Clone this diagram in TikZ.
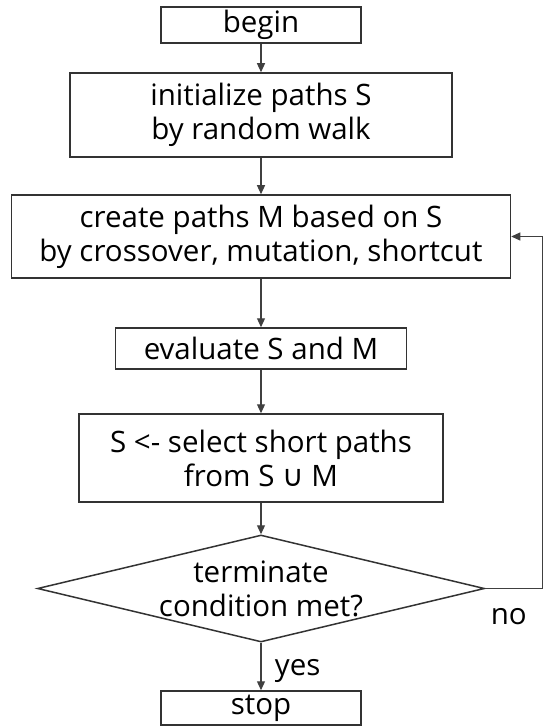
\documentclass[tikz,border=0pt]{standalone}
\usepackage{fontspec}
\setmainfont{Open Sans}
\newfontfamily\symfont{DejaVu Sans}
\usetikzlibrary{arrows.meta,positioning,shapes.geometric}

\begin{document}
\begin{tikzpicture}[
  x=1pt, y=-1pt,
  block/.style={draw=black!80, line width=1.5pt, inner sep=0pt,
    align=center, font=\fontsize{29.5}{34}\selectfont},
  txt/.style={font=\fontsize{29.5}{34}\selectfont, align=center},
  arr/.style={-{Triangle[length=9pt, width=8pt]}, line width=1.2pt, draw=black!75}
]
\useasboundingbox (0,0) rectangle (543,727);

% Start
\node[block, minimum width=200pt, minimum height=36pt] (begin) at (261,25) {begin};

% Initial paths
\node[block, minimum width=382pt, minimum height=84pt] (init) at (261,115) {initialize paths S\\by random walk};

% New paths
\node[block, minimum width=499pt, minimum height=83pt] (create) at (261,236.5) {create paths M based on S\\by crossover, mutation, shortcut};

% Evaluation
\node[block, minimum width=291pt, minimum height=41pt] (eval) at (261,348.5) {evaluate S and M};

% Selection
\node[block, minimum width=364pt, minimum height=88pt] (select) at (261,458) {S <- select short paths\\from S {\symfont ∪} M};

% Termination test
\node[diamond, draw=black!80, line width=1.5pt, inner sep=0pt,
  minimum width=447pt, minimum height=107pt,
  label={[txt]center:terminate\\condition met?}] (cond) at (261,588.5) {};

% End
\node[block, minimum width=200pt, minimum height=34pt] (stop) at (261,708) {stop};

\draw[arr] (begin) -- (init);
\draw[arr] (init) -- (create);
\draw[arr] (create) -- (eval);
\draw[arr] (eval) -- (select);
\draw[arr] (select) -- (cond);
\draw[arr] (cond) -- node[txt, right, xshift=10pt, yshift=-4pt] {yes} (stop);
\draw[arr] (cond.east) -- node[txt, below, xshift=-5pt, yshift=-16pt] {no} ++(57,0) |- (create.east);

\end{tikzpicture}
\end{document}
